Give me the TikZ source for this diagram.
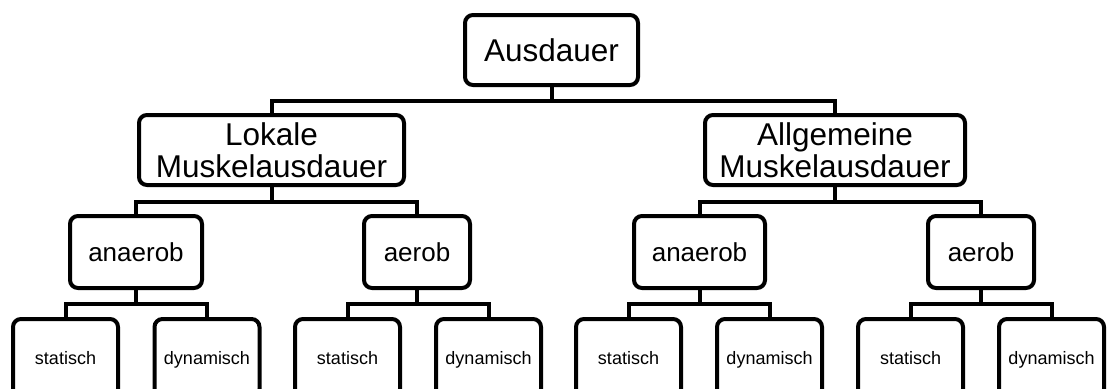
\documentclass[tikz,border=0pt]{standalone}
\usepackage{fontspec}
\setmainfont{Liberation Sans}
\begin{document}
\begin{tikzpicture}[x=1pt,y=-1pt,
  box/.style={draw=black,line width=4pt,rounded corners=8pt,inner sep=0pt,fill=white},
  bigbox/.style={box,align=center,minimum height=70pt,font=\fontsize{31.5}{32}\selectfont},
  midbox/.style={box,minimum height=72pt,text height=23.5pt,text depth=4.1pt,font=\fontsize{26}{30}\selectfont},
  leafbox/.style={box,minimum height=78pt,minimum width=105pt,text height=15.5pt,text depth=3.5pt,font=\fontsize{18}{20}\selectfont},
  link/.style={draw=black,line width=4pt}]
\useasboundingbox (0,0) rectangle (1110,388);
\clip (0,0) rectangle (1110,388);
% bus levels
\coordinate (b1) at (0,100.5);
\coordinate (b2) at (0,202);
\coordinate (b3) at (0,304);
% nodes
\node[bigbox,minimum width=173pt] (aus) at (551.5,50) {Ausdauer};
\node[bigbox,minimum width=265pt] (lok) at (271.5,150) {Lokale\\Muskelausdauer};
\node[bigbox,minimum width=260pt] (all) at (835,150) {Allgemeine\\Muskelausdauer};
\node[midbox,minimum width=132pt] (anL) at (136,252) {anaerob};
\node[midbox,minimum width=106pt] (aeL) at (417,252) {aerob};
\node[midbox,minimum width=131pt] (anR) at (699.5,252) {anaerob};
\node[midbox,minimum width=106pt] (aeR) at (981,252) {aerob};
\node[leafbox] (s1) at (65.5,358) {statisch};
\node[leafbox] (d1) at (207,358) {dynamisch};
\node[leafbox] (s2) at (347.5,358) {statisch};
\node[leafbox] (d2) at (488.5,358) {dynamisch};
\node[leafbox] (s3) at (628.5,358) {statisch};
\node[leafbox] (d3) at (769.5,358) {dynamisch};
\node[leafbox] (s4) at (910.5,358) {statisch};
\node[leafbox] (d4) at (1051.5,358) {dynamisch};
% connectors
\draw[link] (aus.south) -- (aus.south |- b1);
\draw[link] (lok.north) |- (all.north |- b1) -- (all.north);
\draw[link] (lok.south) -- (lok.south |- b2);
\draw[link] (anL.north) |- (aeL.north |- b2) -- (aeL.north);
\draw[link] (all.south) -- (all.south |- b2);
\draw[link] (anR.north) |- (aeR.north |- b2) -- (aeR.north);
\draw[link] (anL.south) -- (anL.south |- b3);
\draw[link] (s1.north) |- (d1.north |- b3) -- (d1.north);
\draw[link] (aeL.south) -- (aeL.south |- b3);
\draw[link] (s2.north) |- (d2.north |- b3) -- (d2.north);
\draw[link] (anR.south) -- (anR.south |- b3);
\draw[link] (s3.north) |- (d3.north |- b3) -- (d3.north);
\draw[link] (aeR.south) -- (aeR.south |- b3);
\draw[link] (s4.north) |- (d4.north |- b3) -- (d4.north);
\end{tikzpicture}
\end{document}
